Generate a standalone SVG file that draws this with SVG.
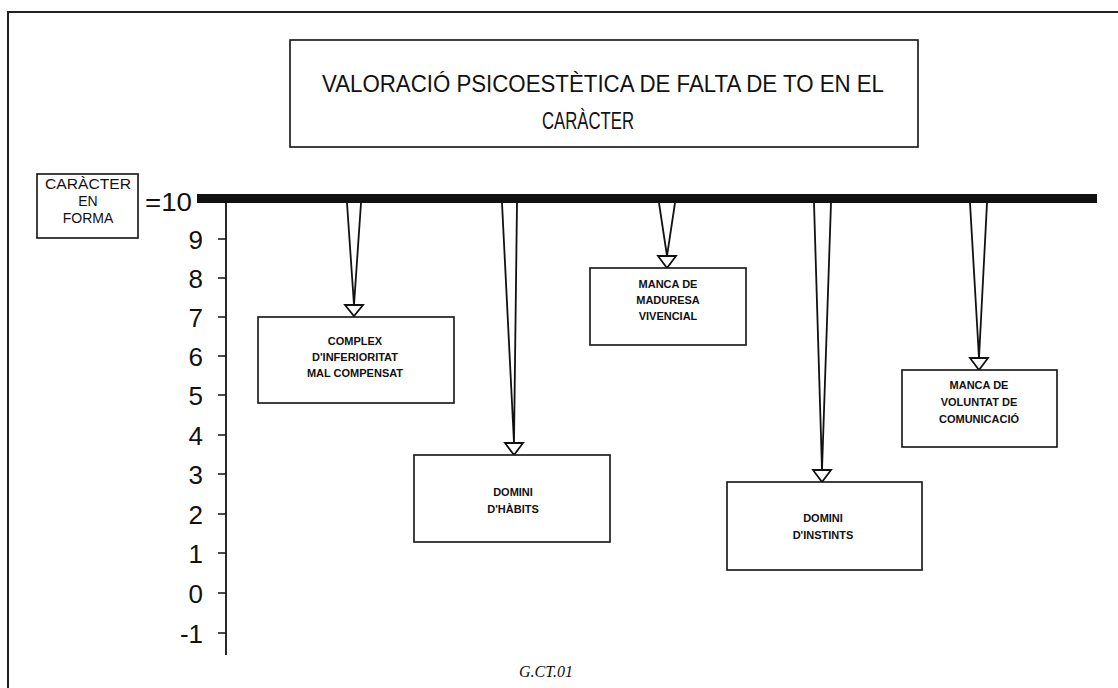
<svg xmlns="http://www.w3.org/2000/svg" width="1118" height="688" viewBox="0 0 1118 688">
<style>
.box{fill:#fff;stroke:#111;stroke-width:1.6}
.lbl{font-family:"Liberation Sans",Arial,sans-serif;font-size:11px;font-weight:bold;fill:#111;text-anchor:middle}
.num{font-family:"Liberation Sans",Arial,sans-serif;font-size:26px;fill:#111;text-anchor:end}
.ttl{font-family:"Liberation Sans",Arial,sans-serif;font-size:24px;fill:#111;text-anchor:middle}
.side{font-family:"Liberation Sans",Arial,sans-serif;font-size:14px;fill:#111;text-anchor:middle}
.wedge{fill:#fff;stroke:#111;stroke-width:1.8;stroke-linejoin:round}
.arrow{fill:#fff;stroke:#111;stroke-width:1.8}
.tick{stroke:#111;stroke-width:1.5}
</style>
<rect width="1118" height="688" fill="#fff"/>
<path d="M8 688 V12 H1118" fill="none" stroke="#222" stroke-width="2"/>

<g id="title">
<rect class="box" x="290" y="40" width="628" height="107"/>
<text class="ttl" x="603" y="92" textLength="562" lengthAdjust="spacingAndGlyphs">VALORACIÓ PSICOESTÈTICA DE FALTA DE TO EN EL</text>
<text class="ttl" x="588" y="129" textLength="92" lengthAdjust="spacingAndGlyphs">CARÀCTER</text>
</g>

<g id="forma">
<rect class="box" x="37" y="174" width="101" height="64"/>
<text class="side" x="88" y="189" textLength="86" lengthAdjust="spacingAndGlyphs">CARÀCTER</text>
<text class="side" x="88" y="206">EN</text>
<text class="side" x="88" y="223">FORMA</text>
<text class="num" x="192" y="211" font-size="24" textLength="47" lengthAdjust="spacingAndGlyphs">=10</text>
</g>

<g id="axis">
<rect x="197" y="194" width="900" height="9" fill="#111"/>
<line x1="226" y1="199" x2="226" y2="655" stroke="#111" stroke-width="1.8"/>
<g class="tick">
<line x1="218" y1="239" x2="226" y2="239"/>
<line x1="218" y1="278" x2="226" y2="278"/>
<line x1="218" y1="317" x2="226" y2="317"/>
<line x1="218" y1="356" x2="226" y2="356"/>
<line x1="218" y1="395" x2="226" y2="395"/>
<line x1="218" y1="435" x2="226" y2="435"/>
<line x1="218" y1="474" x2="226" y2="474"/>
<line x1="218" y1="514" x2="226" y2="514"/>
<line x1="218" y1="553" x2="226" y2="553"/>
<line x1="218" y1="593" x2="226" y2="593"/>
<line x1="218" y1="633" x2="226" y2="633"/>
</g>
<text class="num" x="203" y="249">9</text>
<text class="num" x="203" y="288">8</text>
<text class="num" x="203" y="327">7</text>
<text class="num" x="203" y="366">6</text>
<text class="num" x="203" y="405">5</text>
<text class="num" x="203" y="445">4</text>
<text class="num" x="203" y="484">3</text>
<text class="num" x="203" y="524">2</text>
<text class="num" x="203" y="563">1</text>
<text class="num" x="203" y="603">0</text>
<text class="num" x="203" y="643">-1</text>
</g>

<g id="connectors">
<path class="wedge" d="M347 203 L354 305 L361 203"/>
<path class="arrow" d="M345 305 H363 L354 316 Z"/>
<path class="wedge" d="M502 203 L514 443 L517 203"/>
<path class="arrow" d="M505 443 H523 L514 455 Z"/>
<path class="wedge" d="M659 203 L667 256 L675 203"/>
<path class="arrow" d="M658 256 H676 L667 268 Z"/>
<path class="wedge" d="M814 203 L822 470 L831 203"/>
<path class="arrow" d="M813 470 H831 L822 482 Z"/>
<path class="wedge" d="M970 203 L979 358 L987 203"/>
<path class="arrow" d="M970 358 H988 L979 370 Z"/>
</g>

<g id="n1">
<rect class="box" x="258" y="317" width="196" height="86"/>
<text class="lbl" x="355" y="345">COMPLEX</text>
<text class="lbl" x="355" y="361">D'INFERIORITAT</text>
<text class="lbl" x="355" y="377">MAL COMPENSAT</text>
</g>
<g id="n2">
<rect class="box" x="414" y="455" width="196" height="87"/>
<text class="lbl" x="513" y="496">DOMINI</text>
<text class="lbl" x="513" y="513">D'HÀBITS</text>
</g>
<g id="n3">
<rect class="box" x="590" y="268" width="156" height="77"/>
<text class="lbl" x="668" y="288">MANCA DE</text>
<text class="lbl" x="668" y="304">MADURESA</text>
<text class="lbl" x="668" y="320">VIVENCIAL</text>
</g>
<g id="n4">
<rect class="box" x="727" y="482" width="195" height="88"/>
<text class="lbl" x="823" y="522">DOMINI</text>
<text class="lbl" x="823" y="539">D'INSTINTS</text>
</g>
<g id="n5">
<rect class="box" x="902" y="370" width="155" height="77"/>
<text class="lbl" x="979" y="389">MANCA DE</text>
<text class="lbl" x="979" y="406">VOLUNTAT DE</text>
<text class="lbl" x="979" y="423">COMUNICACIÓ</text>
</g>

<text x="546" y="677" font-family="Liberation Serif,Times New Roman,serif" font-style="italic" font-size="16" fill="#111" text-anchor="middle">G.CT.01</text>
</svg>
